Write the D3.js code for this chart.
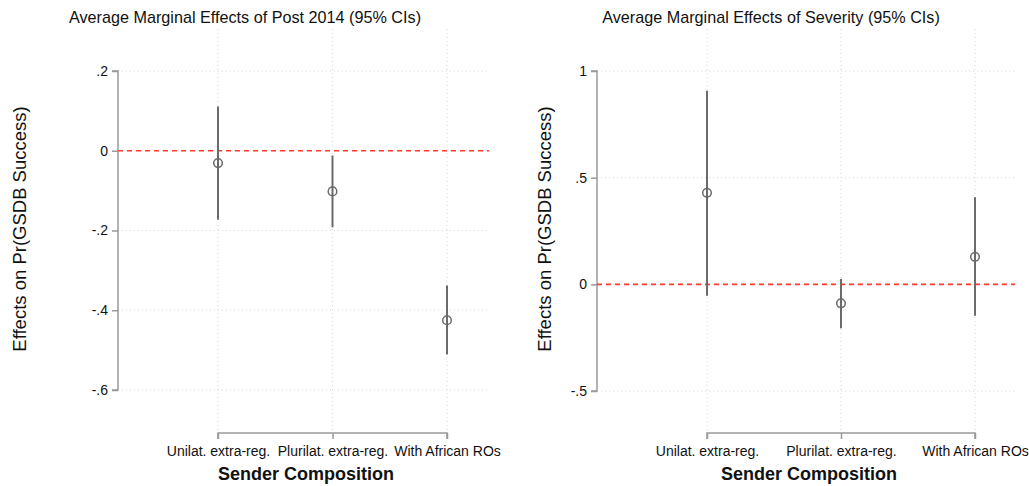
<!DOCTYPE html>
<html>
<head>
<meta charset="utf-8">
<script src="https://cdn.jsdelivr.net/npm/d3@7"></script>
<style>
  body { margin: 0; background: #fff; }
  svg { display: block; }
  text { font-family: "Liberation Sans", Helvetica, Arial, sans-serif; fill: #111; }
</style>
</head>
<body>
<svg id="chart" width="1029" height="486"></svg>
<script>
const categories = ["Unilat. extra-reg.", "Plurilat. extra-reg.", "With African ROs"];

const post2014Est = [-0.031, -0.102, -0.425];
const post2014Lo  = [-0.173, -0.192, -0.511];
const post2014Hi  = [0.111, -0.012, -0.338];
const post2014Ticks = [0.2, 0, -0.2, -0.4, -0.6];

const severityEst = [0.429, -0.089, 0.129];
const severityLo  = [-0.053, -0.206, -0.147];
const severityHi  = [0.908, 0.025, 0.408];
const severityTicks = [1, 0.5, 0, -0.5];

const titles = ["Average Marginal Effects of Post 2014 (95% CIs)", "Average Marginal Effects of Severity (95% CIs)"];
const yTitle = "Effects on Pr(GSDB Success)";
const xTitle = "Sender Composition";

const svg = d3.select("#chart");
const FONT = '"Liberation Sans", Helvetica, Arial, sans-serif';

function fmt(v) {
  if (v === 0) return "0";
  let s = String(Math.abs(v)).replace(/^0\./, ".");
  return (v < 0 ? "-" : "") + s;
}

function panel(cfg) {
  const g = svg.append("g");
  const x = d3.scaleLinear().domain([1, 3]).range([cfg.x1, cfg.x3]);
  const y = d3.scaleLinear().domain(cfg.yDom).range(cfg.yRange);
  const top = 29, bottom = 430;

  // horizontal gridlines
  g.selectAll(".hg").data(cfg.ticks).enter().append("line")
    .attr("x1", cfg.left).attr("x2", cfg.right)
    .attr("y1", d => y(d)).attr("y2", d => y(d))
    .attr("stroke", "#d8d8d8").attr("stroke-width", 1).attr("stroke-dasharray", "1,3");
  // vertical gridlines
  g.selectAll(".vg").data([1, 2, 3]).enter().append("line")
    .attr("x1", d => x(d)).attr("x2", d => x(d))
    .attr("y1", top).attr("y2", bottom)
    .attr("stroke", "#d8d8d8").attr("stroke-width", 1).attr("stroke-dasharray", "1,3");

  // y axis
  const ya = g.append("g").attr("transform", `translate(${cfg.left},0)`)
    .call(d3.axisLeft(y).tickValues(cfg.ticks).tickFormat(fmt).tickSize(6).tickPadding(4));
  ya.select(".domain").attr("stroke", "#9a9a9a").attr("stroke-width", 1.5)
    .attr("d", `M-6,${y(cfg.ticks[0])}H0V${y(cfg.ticks[cfg.ticks.length - 1])}H-6`);
  ya.selectAll(".tick line").attr("stroke", "#9a9a9a").attr("stroke-width", 1.5);
  ya.selectAll(".tick text").style("font-size", "14px").attr("fill", "#111")
    .style("font-family", FONT);

  // x axis
  const xa = g.append("g").attr("transform", `translate(0,433)`)
    .call(d3.axisBottom(x).tickValues([1, 2, 3]).tickFormat((d, i) => categories[i]).tickSize(6).tickPadding(7));
  xa.select(".domain").attr("stroke", "#9a9a9a").attr("stroke-width", 1.5)
    .attr("d", `M${x(1)},6V0H${x(3)}V6`);
  xa.selectAll(".tick line").attr("stroke", "#9a9a9a").attr("stroke-width", 1.5);
  xa.selectAll(".tick text").style("font-size", "14px").attr("fill", "#111")
    .style("font-family", FONT);

  // zero reference line
  g.append("line").attr("x1", cfg.left).attr("x2", cfg.right)
    .attr("y1", y(0)).attr("y2", y(0))
    .attr("stroke", "#ff3b30").attr("stroke-width", 1.6).attr("stroke-dasharray", "5,4");

  // CIs
  g.selectAll(".ci").data(cfg.est).enter().append("line")
    .attr("x1", (d, i) => x(i + 1)).attr("x2", (d, i) => x(i + 1))
    .attr("y1", (d, i) => y(cfg.lo[i])).attr("y2", (d, i) => y(cfg.hi[i]))
    .attr("stroke", "#6a6a6a").attr("stroke-width", 2);
  g.selectAll(".pt").data(cfg.est).enter().append("circle")
    .attr("cx", (d, i) => x(i + 1)).attr("cy", d => y(d)).attr("r", 4.3)
    .attr("fill", "none").attr("stroke", "#6a6a6a").attr("stroke-width", 1.5);

  // titles
  g.append("text").attr("x", cfg.titleX).attr("y", 23).attr("text-anchor", "middle")
    .style("font-size", "16.2px").text(cfg.title);
  g.append("text").attr("transform", `translate(${cfg.yTitleX},229) rotate(-90)`)
    .attr("text-anchor", "middle").attr("dy", "0.35em").style("font-size", "18.5px").text(yTitle);
  g.append("text").attr("x", cfg.xTitleX).attr("y", 480).attr("text-anchor", "middle")
    .style("font-size", "18px").style("font-weight", "bold").text(xTitle);
}

panel({
  left: 118, right: 489, x1: 218, x3: 447,
  yDom: [-0.6, 0.2], yRange: [390, 71], ticks: post2014Ticks,
  est: post2014Est, lo: post2014Lo, hi: post2014Hi,
  title: titles[0], titleX: 245, yTitleX: 20, xTitleX: 306
});
panel({
  left: 597, right: 1015, x1: 707, x3: 975,
  yDom: [-0.5, 1], yRange: [391, 71], ticks: severityTicks,
  est: severityEst, lo: severityLo, hi: severityHi,
  title: titles[1], titleX: 771, yTitleX: 545, xTitleX: 809
});
</script>
</body>
</html>
